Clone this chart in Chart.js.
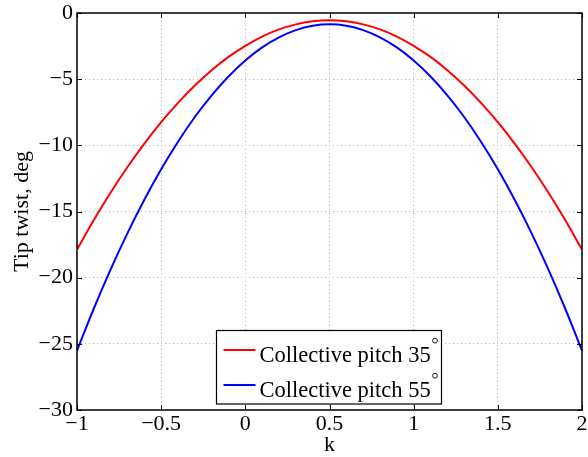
<!DOCTYPE html>
<html>
<head>
  <title>Tip twist vs k</title>
  <script src="https://cdn.jsdelivr.net/npm/chart.js"></script>
  <style>
    body { margin: 0; background: #fff; }
    #wrap { width: 588px; height: 457px; position: relative; }
  </style>
</head>
<body>
<div id="wrap"><canvas id="chart"></canvas></div>
<script>
// Data
const kValues = [-1, -0.9, -0.8, -0.7, -0.6, -0.5, -0.4, -0.3, -0.2, -0.1, 0, 0.1, 0.2, 0.3, 0.4, 0.5,
  0.6, 0.7, 0.8, 0.9, 1, 1.1, 1.2, 1.3, 1.4, 1.5, 1.6, 1.7, 1.8, 1.9, 2];
const pitch35 = [-17.88, -15.64, -13.56, -11.64, -9.87, -8.25, -6.79, -5.48, -4.32, -3.32, -2.48, -1.78, -1.24, -0.86, -0.63, -0.55,
  -0.63, -0.86, -1.24, -1.78, -2.48, -3.32, -4.32, -5.48, -6.79, -8.25, -9.87, -11.64, -13.56, -15.64, -17.88];
const pitch55 = [-25.51, -22.33, -19.37, -16.63, -14.11, -11.81, -9.73, -7.86, -6.22, -4.80, -3.59, -2.60, -1.84, -1.29, -0.96, -0.85,
  -0.96, -1.29, -1.84, -2.60, -3.59, -4.80, -6.22, -7.86, -9.73, -11.81, -14.11, -16.63, -19.37, -22.33, -25.51];
const seriesLabels = ['Collective pitch 35°', 'Collective pitch 55°'];
const seriesColors = ['#ff0000', '#0000ff'];
const xTicks = [-1, -0.5, 0, 0.5, 1, 1.5, 2];
const yTicks = [-30, -25, -20, -15, -10, -5, 0];

const FONT = '"Liberation Serif", "Times New Roman", serif';
const toPts = ys => kValues.map((k, i) => ({ x: k, y: ys[i] }));
const fmt = v => (v < 0 ? '\u2212' + Math.abs(v) : String(v));
const noPad = s => { s.paddingTop = 0; s.paddingBottom = 0; s.paddingLeft = 0; s.paddingRight = 0; };

// box, inward ticks and the legend, drawn like the MATLAB figure
const matlabBox = {
  id: 'matlabBox',
  afterDraw(chart) {
    const { ctx, chartArea: a, scales } = chart;
    ctx.save();
    ctx.strokeStyle = '#000';
    ctx.lineWidth = 1;
    ctx.beginPath();
    xTicks.forEach(t => {
      const px = Math.round(scales.x.getPixelForValue(t)) + 0.5;
      ctx.moveTo(px, a.bottom); ctx.lineTo(px, a.bottom - 5);
      ctx.moveTo(px, a.top); ctx.lineTo(px, a.top + 5);
    });
    yTicks.forEach(t => {
      const py = Math.round(scales.y.getPixelForValue(t)) + 0.5;
      ctx.moveTo(a.left, py); ctx.lineTo(a.left + 5, py);
      ctx.moveTo(a.right, py); ctx.lineTo(a.right - 5, py);
    });
    ctx.stroke();
    ctx.lineWidth = 1.5;
    ctx.strokeRect(a.left, a.top, a.right - a.left, a.bottom - a.top);

    // legend
    const lx = 216.5, ly = 330.5, lw = 225, lh = 73.5;
    ctx.fillStyle = '#fff';
    ctx.fillRect(lx, ly, lw, lh);
    ctx.strokeStyle = '#000';
    ctx.lineWidth = 1.2;
    ctx.strokeRect(lx, ly, lw, lh);
    seriesLabels.forEach((lab, i) => {
      const y = ly + 19.5 + i * 35;
      ctx.strokeStyle = seriesColors[i];
      ctx.lineWidth = 2;
      ctx.beginPath();
      ctx.moveTo(lx + 7, y); ctx.lineTo(lx + 39, y);
      ctx.stroke();
      const main = lab.replace('°', '');
      ctx.fillStyle = '#000';
      ctx.font = '22.5px ' + FONT;
      ctx.textBaseline = 'alphabetic';
      ctx.textAlign = 'left';
      ctx.fillText(main, lx + 43, y + 11.7);
      const w = ctx.measureText(main).width;
      // superscript degree ring
      ctx.strokeStyle = '#000';
      ctx.lineWidth = 0.9;
      ctx.beginPath();
      ctx.arc(lx + 43 + w + 4.3, y - 9.3, 2.4, 0, Math.PI * 2);
      ctx.stroke();
    });
    ctx.restore();
  }
};

new Chart(document.getElementById('chart'), {
  type: 'line',
  data: {
    datasets: [
      { label: seriesLabels[0], data: toPts(pitch35), borderColor: seriesColors[0], borderWidth: 2, pointRadius: 0, tension: 0.4, fill: false },
      { label: seriesLabels[1], data: toPts(pitch55), borderColor: seriesColors[1], borderWidth: 2, pointRadius: 0, tension: 0.4, fill: false }
    ]
  },
  plugins: [matlabBox],
  options: {
    responsive: true,
    maintainAspectRatio: false,
    animation: false,
    layout: { padding: { left: 0, right: 6, top: 13, bottom: 0 } },
    plugins: { legend: { display: false }, tooltip: { enabled: false } },
    scales: {
      x: {
        type: 'linear',
        min: -1, max: 2,
        afterFit: s => { s.height = 47; noPad(s); },
        afterBuildTicks: s => { s.ticks = xTicks.map(v => ({ value: v })); },
        ticks: { color: '#000', font: { family: FONT, size: 22 }, padding: 1, callback: fmt, maxRotation: 0 },
        grid: { color: '#b4b4b4', drawTicks: false, lineWidth: 1 },
        border: { display: false, dash: [1, 3] },
        title: { display: true, text: 'k', color: '#000', font: { family: FONT, size: 22 }, padding: { top: 0, bottom: -1 } }
      },
      y: {
        type: 'linear',
        min: -30, max: 0,
        afterFit: s => { s.width = 77; noPad(s); },
        afterBuildTicks: s => { s.ticks = yTicks.map(v => ({ value: v })); },
        ticks: { color: '#000', font: { family: FONT, size: 22 }, padding: 4, callback: fmt },
        grid: { color: '#b4b4b4', drawTicks: false, lineWidth: 1 },
        border: { display: false, dash: [1, 3] },
        title: { display: true, text: 'Tip twist, deg', color: '#000', font: { family: FONT, size: 22 }, padding: { top: 9, bottom: 0 } }
      }
    }
  }
});
</script>
</body>
</html>
